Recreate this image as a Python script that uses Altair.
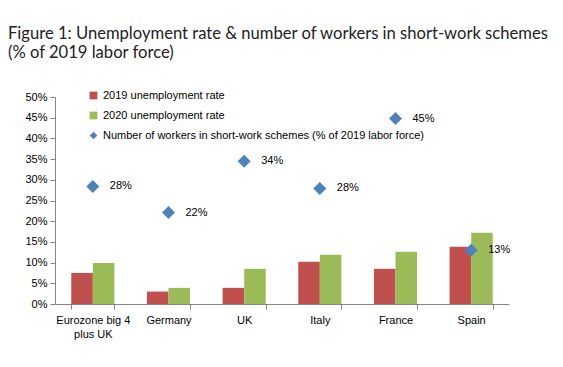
import altair as alt
import pandas as pd

countries = ["Eurozone big 4 plus UK", "Germany", "UK", "Italy", "France", "Spain"]
unemp_2019 = [7.5, 3.0, 3.9, 10.2, 8.5, 13.8]
unemp_2020 = [9.9, 3.9, 8.5, 11.9, 12.6, 17.2]
short_work = [28.4, 22.1, 34.5, 27.9, 44.8, 13.0]
short_labels = ["28%", "22%", "34%", "28%", "45%", "13%"]
y_ticks = [0, 5, 10, 15, 20, 25, 30, 35, 40, 45, 50]

s19 = "2019 unemployment rate"
s20 = "2020 unemployment rate"
s_sw = "Number of workers in short-work schemes (% of 2019 labor force)"

bars = pd.DataFrame(
    [{"country": c, "series": s19, "value": v / 100} for c, v in zip(countries, unemp_2019)]
    + [{"country": c, "series": s20, "value": v / 100} for c, v in zip(countries, unemp_2020)]
)
pts = pd.DataFrame({"country": countries, "series": s_sw,
                    "value": [v / 100 for v in short_work], "label": short_labels})

domain = [s19, s20, s_sw]
color_scale = alt.Scale(domain=domain, range=["#C0504D", "#9BBB59", "#4F81BD"])
shape_scale = alt.Scale(domain=domain, range=["square", "square", "diamond"])

FONT = "Liberation Sans"

x_enc = alt.X("country:N", sort=countries, title=None,
              scale=alt.Scale(paddingInner=0.43, paddingOuter=0.215),
              axis=alt.Axis(labelAngle=0, tickBand="extent", domainColor="#868686",
                            tickColor="#868686", tickSize=5, labelPadding=5,
                            labelFontSize=11, labelColor="#000000", labelFont=FONT,
                            labelLineHeight=14,
                            labelExpr="datum.label == 'Eurozone big 4 plus UK' ? ['Eurozone big 4', 'plus UK'] : datum.label"))
y_enc = alt.Y("value:Q", title=None,
              scale=alt.Scale(domain=[0, 0.5], nice=False),
              axis=alt.Axis(values=[round(v / 100, 2) for v in y_ticks], format=".0%", grid=False,
                            tickCount=11,
                            domainColor="#868686", tickColor="#868686", tickSize=5,
                            labelFontSize=11, labelColor="#000000", labelFont=FONT,
                            labelPadding=3, labelOverlap=False))

legend = alt.Legend(title=None, orient="none", legendX=33, legendY=-7,
                    labelFontSize=11, labelFont=FONT, labelColor="#000000",
                    symbolSize=60, rowPadding=5, labelLimit=400, symbolOpacity=1)

bar_layer = alt.Chart(bars).mark_bar().encode(
    x=x_enc,
    xOffset=alt.XOffset("series:N", sort=[s19, s20], scale=alt.Scale(paddingInner=0, paddingOuter=0)),
    y=y_enc,
    color=alt.Color("series:N", scale=color_scale, legend=legend),
    shape=alt.Shape("series:N", scale=shape_scale, legend=legend),
)

pt_layer = alt.Chart(pts).mark_point(filled=True, size=170, opacity=1).encode(
    x=x_enc,
    y=y_enc,
    color=alt.Color("series:N", scale=color_scale, legend=legend),
    shape=alt.Shape("series:N", scale=shape_scale, legend=legend),
)

txt_layer = alt.Chart(pts).mark_text(align="left", dx=17, fontSize=11, font=FONT, color="#000000").encode(
    x=x_enc,
    y=y_enc,
    text="label:N",
)

chart = alt.layer(bar_layer, pt_layer, txt_layer).properties(
    width=454, height=207,
    autosize=alt.AutoSizeParams(type="none"),
    padding={"left": 47, "top": 89, "right": 46, "bottom": 55},
    title=alt.Title(["Figure 1: Unemployment rate & number of workers in short-work schemes",
                     "(% of 2019 labor force)"],
                    anchor="start", frame="group", dx=-47, offset=28,
                    font="Lato", fontSize=16.6, fontWeight="normal", color="#222222",
                    lineHeight=19),
).configure_view(stroke=None)

chart.save("out.html", embed_options={"renderer": "svg", "actions": False})
